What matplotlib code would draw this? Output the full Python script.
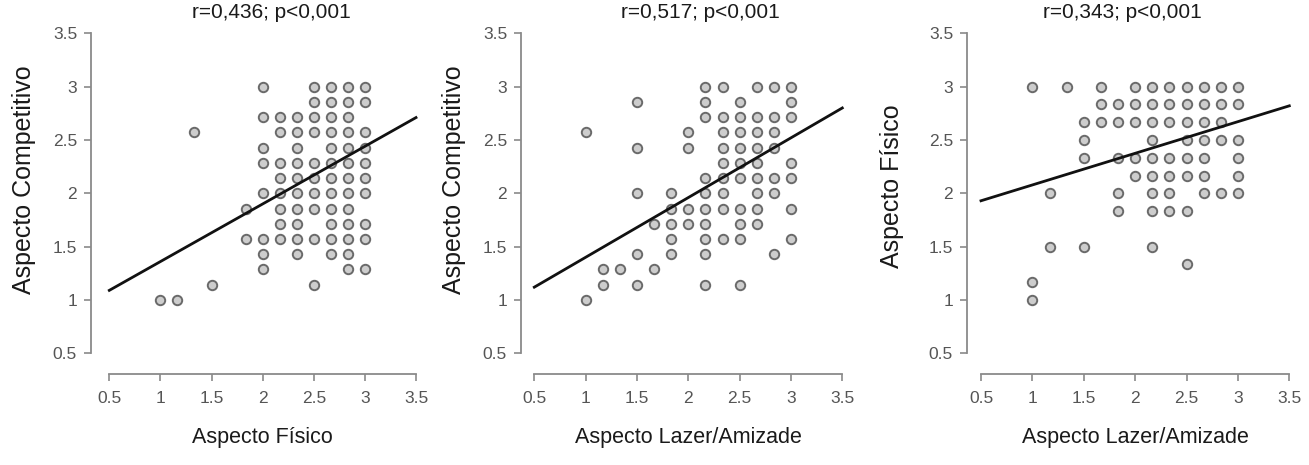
import matplotlib
matplotlib.use("Agg")
import matplotlib.pyplot as plt
import numpy as np

plt.rcParams['font.family'] = ['Liberation Sans', 'DejaVu Sans']

titles = ["r=0,436; p<0,001", "r=0,517; p<0,001", "r=0,343; p<0,001"]
xlabels = ["Aspecto Físico", "Aspecto Lazer/Amizade", "Aspecto Lazer/Amizade"]
ylabels = ["Aspecto Competitivo", "Aspecto Competitivo", "Aspecto Físico"]
ticks = [0.5, 1, 1.5, 2, 2.5, 3, 3.5]
tick_labels = ["0.5", "1", "1.5", "2", "2.5", "3", "3.5"]

# Panel 1: x in sixths, y in sevenths (rows listed by y numerator /7, x numerators /6)
p1_rows = {
    21: [12, 15, 16, 17, 18],
    20: [15, 16, 17, 18],
    19: [12, 13, 14, 15, 16, 17],
    18: [8, 13, 14, 15, 16, 17, 18],
    17: [12, 14, 16, 17, 18],
    16: [12, 13, 14, 15, 16, 17, 18],
    15: [13, 14, 15, 16, 17, 18],
    14: [12, 13, 14, 15, 16, 17, 18],
    13: [11, 13, 14, 15, 16, 17],
    12: [13, 14, 16, 17, 18],
    11: [11, 12, 13, 14, 15, 16, 17, 18],
    10: [12, 14, 16, 17],
    9: [12, 17, 18],
    8: [9, 15],
    7: [6, 7],
}
# Panel 2
p2_rows = {
    21: [13, 14, 16, 17, 18],
    20: [9, 13, 15, 18],
    19: [13, 14, 15, 16, 17, 18],
    18: [6, 12, 14, 15, 16, 17],
    17: [9, 12, 14, 15, 16, 17],
    16: [14, 15, 16, 18],
    15: [13, 14, 15, 16, 17, 18],
    14: [9, 11, 13, 14, 16, 17],
    13: [11, 12, 13, 14, 15, 16, 18],
    12: [10, 11, 12, 13, 15, 16],
    11: [11, 13, 14, 15, 18],
    10: [9, 11, 13, 17],
    9: [7, 8, 10],
    8: [7, 9, 13, 15],
    7: [6],
}
# Panel 3: x in sixths, y in sixths
p3_rows = {
    18: [6, 8, 10, 12, 13, 14, 15, 16, 17, 18],
    17: [10, 11, 12, 13, 14, 15, 16, 17, 18],
    16: [9, 10, 11, 12, 13, 14, 15, 16, 17],
    15: [9, 13, 15, 16, 17, 18],
    14: [9, 11, 12, 13, 14, 15, 16, 18],
    13: [12, 13, 14, 15, 16, 18],
    12: [7, 11, 13, 14, 16, 17, 18],
    11: [11, 13, 14, 15],
    9: [7, 9, 13],
    8: [15],
    7: [6],
    6: [6],
}

def expand(rows, ydiv, xdiv=6):
    xs, ys = [], []
    for yn, xl in rows.items():
        for xn in xl:
            xs.append(xn / xdiv)
            ys.append(yn / ydiv)
    return np.array(xs), np.array(ys)

data = [expand(p1_rows, 7), expand(p2_rows, 7), expand(p3_rows, 6)]
lines = [((0.5, 3.5), (1.09, 2.71)), ((0.5, 3.5), (1.12, 2.80)), ((0.5, 3.5), (1.93, 2.82))]

W, H = 1309, 465
fig = plt.figure(figsize=(W / 100, H / 100), dpi=100)

# pixel layout per panel: x of 0.5, x of 3.5, left-spine x
px = [(109.3, 416.0, 91.0), (534.3, 842.3, 521.0), (981.0, 1289.3, 967.0)]
y_top, y_bot, x_axis_y = 33.3, 353.3, 374.0
title_cx = [271, 700, 1122]
ylabel_cx = [24, 454, 892]
ylabel_cy = [180, 180, 186]

for i in range(3):
    x0, x1, sp = px[i]
    ax = fig.add_axes([x0 / W, 1 - y_bot / H, (x1 - x0) / W, (y_bot - y_top) / H])
    ax.set_xlim(0.5, 3.5)
    ax.set_ylim(0.5, 3.5)
    xs, ys = data[i]
    ax.scatter(xs, ys, s=46, facecolor='#cdcdcd', edgecolor='#6a6a6a', linewidths=1.4,
               zorder=2, clip_on=False)
    (lx, ly) = lines[i]
    ax.plot(lx, ly, color='#111111', lw=2.0, zorder=3, clip_on=False)
    for s in ['top', 'right']:
        ax.spines[s].set_visible(False)
    ax.spines['left'].set_position(('outward', (x0 - sp) * 0.72))
    ax.spines['bottom'].set_position(('outward', (x_axis_y - y_bot) * 0.72))
    for s in ['left', 'bottom']:
        ax.spines[s].set_bounds(0.5, 3.5)
        ax.spines[s].set_color('#8a8a8a')
        ax.spines[s].set_linewidth(1.3)
    ax.set_xticks(ticks)
    ax.set_xticklabels(tick_labels)
    ax.set_yticks(ticks)
    ax.set_yticklabels(tick_labels)
    ax.tick_params(axis='both', colors='#8a8a8a', labelcolor='#555555', labelsize=12.5,
                   length=5, width=1.2, direction='out')
    ax.tick_params(axis='x', pad=7)
    ax.tick_params(axis='y', pad=5)
    fig.text(title_cx[i] / W, 1 - 13 / H, titles[i], ha='center', va='center',
             fontsize=15, color='#1a1a1a')
    fig.text((x0 + x1) / 2 / W + 0.0, 1 - 437 / H, xlabels[i], ha='center', va='center',
             fontsize=15.5, color='#1a1a1a')
    fig.text(ylabel_cx[i] / W, 1 - ylabel_cy[i] / H, ylabels[i], ha='center', va='center',
             rotation=90, fontsize=18, color='#1a1a1a')

fig.savefig("out.png", dpi=100)
